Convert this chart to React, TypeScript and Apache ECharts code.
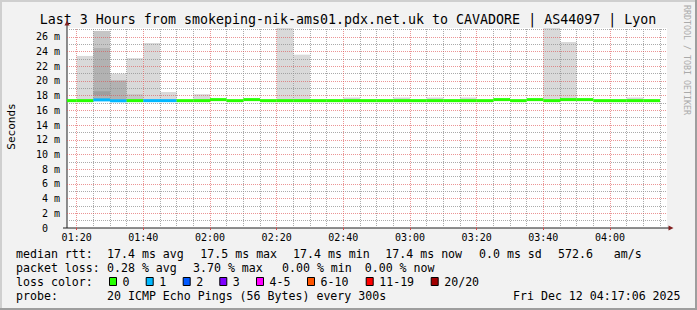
import React, { useEffect, useRef } from "react";
import * as echarts from "echarts";

const TITLE = "Last 3 Hours from smokeping-nik-ams01.pdx.net.uk to CAVADORE | AS44097 | Lyon";
const X_START = 77.1; // 01:17:06 (minutes since midnight)
const X_END = 257.1; // 04:17:06
const SLOT_FIRST = 75; // 01:15, first 5-minute step
const SLOT_MIN = 5;
const Y_MAX = 27.2;
const xTickLabels = ["01:20", "01:40", "02:00", "02:20", "02:40", "03:00", "03:20", "03:40", "04:00"];
const yTickValues = [0, 2, 4, 6, 8, 10, 12, 14, 16, 18, 20, 22, 24, 26];

// median rtt per 5-minute step (ms), steps 01:15 .. 04:10
const medianMs = [
  17.32, 17.32, 17.42, 17.3, 17.32, 17.32, 17.32, 17.32, 17.32, 17.46,
  17.32, 17.46, 17.32, 17.32, 17.32, 17.32, 17.32, 17.32, 17.32, 17.32,
  17.32, 17.32, 17.32, 17.32, 17.32, 17.32, 17.46, 17.32, 17.46, 17.32,
  17.46, 17.46, 17.32, 17.32, 17.32, 17.32,
];
// lost pings (of 20) per step
const lossCount = [
  0, 0, 1, 1, 0, 1, 1, 0, 0, 0,
  0, 0, 0, 0, 0, 0, 0, 0, 0, 0,
  0, 0, 0, 0, 0, 0, 0, 0, 0, 0,
  0, 0, 0, 0, 0, 0,
];
// smoke bands: [step index, low ms, high ms]
const smokeLight: [number, number, number][] = [
  [1, 17.3, 23.4], [3, 20.1, 21.0], [4, 17.3, 23.1], [5, 17.3, 25.15], [6, 17.3, 18.5],
  [8, 17.3, 18.2], [13, 17.3, 30], [14, 17.3, 23.57], [17, 17.3, 17.75], [20, 17.3, 17.75],
  [22, 17.3, 17.75], [24, 17.3, 17.75], [29, 17.3, 30], [30, 17.3, 25.3], [34, 17.3, 17.75],
];
const smokeMid: [number, number, number][] = [[2, 24.5, 26.8], [4, 17.3, 18.2]];
const smokeDark: [number, number, number][] = [[2, 17.3, 24.5], [3, 17.3, 20.1]];
const smokeDarkest: [number, number, number][] = [[2, 18.05, 18.6]];

const lossLegend = [
  { label: "0", min: 0, color: "#26ff00" },
  { label: "1", min: 1, color: "#00b8ff" },
  { label: "2", min: 2, color: "#0059ff" },
  { label: "3", min: 3, color: "#7e00ff" },
  { label: "4-5", min: 4, color: "#ff00ff" },
  { label: "6-10", min: 6, color: "#ff5500" },
  { label: "11-19", min: 11, color: "#ff0000" },
  { label: "20/20", min: 20, color: "#a10000" },
];
const legendBoxX = [109, 145.7, 182.7, 219.3, 256, 307, 365.7, 430.7];

const rttRow = [
  ["median rtt:", 16], ["17.4 ms avg", 107], ["17.5 ms max", 200.3], ["17.4 ms min", 293],
  ["17.4 ms now", 385.3], ["0.0 ms sd", 479], ["572.6", 558], ["am/s", 613.7],
] as [string, number][];
const lossRow = [
  ["packet loss:", 16], ["0.28 % avg", 107], ["3.70 % max", 193], ["0.00 % min", 282], ["0.00 % now", 364.7],
] as [string, number][];
const probeRow = [
  ["probe:", 16], ["20 ICMP Echo Pings (56 Bytes) every 300s", 107], ["Fri Dec 12 04:17:06 2025", 513],
] as [string, number][];

const MONO = '"DejaVu Sans Mono", monospace';

const toMin = (s: string) => {
  const [h, m] = s.split(":").map(Number);
  return h * 60 + m;
};
const fmtMin = (v: number) => {
  const h = Math.floor(v / 60);
  const m = Math.round(v - h * 60);
  return `${String(h).padStart(2, "0")}:${String(m).padStart(2, "0")}`;
};
const slotStart = (k: number) => SLOT_FIRST + k * SLOT_MIN;
const lossColor = (n: number) => {
  let c = lossLegend[0].color;
  for (const l of lossLegend) if (n >= l.min) c = l.color;
  return c;
};

function rectItem(params: any, api: any, fill: string) {
  const p1 = api.coord([api.value(0), api.value(3)]);
  const p2 = api.coord([api.value(1), api.value(2)]);
  const shape = { x: p1[0], y: p1[1], width: p2[0] - p1[0], height: p2[1] - p1[1] };
  const cs = params.coordSys;
  const clipped = echarts.graphic.clipRectByRect(shape, { x: cs.x, y: cs.y, width: cs.width, height: cs.height });
  if (!clipped) return null;
  return { type: "rect", shape: clipped, style: { fill } };
}

function smokeSeries(data: [number, number, number][], color: string) {
  return {
    type: "custom",
    z: 2,
    silent: true,
    encode: { x: [0, 1], y: [2, 3] },
    data: data.map(([k, lo, hi]) => [slotStart(k), slotStart(k) + SLOT_MIN, lo, hi]),
    renderItem: (params: any, api: any) => rectItem(params, api, color),
  };
}

export default function App() {
  const ref = useRef<HTMLDivElement>(null);
  useEffect(() => {
    if (!ref.current) return;
    const chart = echarts.init(ref.current, null, { renderer: "svg", width: 697, height: 310 });
    const majorX = xTickLabels.map(toMin);
    const minorX: number[] = [];
    for (let v = 80; v < X_END; v += 5) if (!majorX.includes(v)) minorX.push(v);
    const minorY: number[] = [];
    for (let v = 1; v < Y_MAX; v += 2) minorY.push(v);
    const majorY = yTickValues.filter((v) => v > 0);
    const gridStyle = { color: "rgba(143,143,143,0.75)", type: [1, 1], width: 1 };
    const mgridStyle = { color: "rgba(222,79,79,0.6)", type: [1, 1], width: 1 };
    const markData: any[] = [
      ...minorX.map((v) => ({ xAxis: v, lineStyle: gridStyle })),
      ...minorY.map((v) => ({ yAxis: v, lineStyle: gridStyle })),
      ...majorX.map((v) => ({ xAxis: v, lineStyle: mgridStyle })),
      ...majorY.map((v) => ({ yAxis: v, lineStyle: mgridStyle })),
    ];

    const text = (t: string, x: number, y: number, extra: any = {}) => ({
      type: "text",
      x,
      y,
      silent: true,
      style: { text: t, fill: "#000", fontFamily: MONO, fontSize: 11.6, align: "left", verticalAlign: "middle", ...extra },
    });

    const graphics: any[] = [
      { type: "rect", shape: { x: 0, y: 0, width: 697, height: 2 }, style: { fill: "#cfcfcf" }, silent: true },
      { type: "rect", shape: { x: 0, y: 0, width: 2, height: 310 }, style: { fill: "#cfcfcf" }, silent: true },
      { type: "rect", shape: { x: 0, y: 308, width: 697, height: 2 }, style: { fill: "#9e9e9e" }, silent: true },
      { type: "rect", shape: { x: 695, y: 0, width: 2, height: 310 }, style: { fill: "#9e9e9e" }, silent: true },
      text(TITLE, 348, 19, { fontSize: 13.3, align: "center" }),
      {
        type: "text", x: 11, y: 126.5, rotation: Math.PI / 2, silent: true,
        style: { text: "Seconds", fill: "#000", fontFamily: MONO, fontSize: 11, align: "center", verticalAlign: "middle" },
      },
      {
        type: "text", x: 687, y: 60, rotation: -Math.PI / 2, silent: true,
        style: { text: "RRDTOOL / TOBI OETIKER", fill: "#aaaaaa", fontFamily: MONO, fontSize: 8.3, align: "center", verticalAlign: "middle" },
      },
      // axis lines and arrows
      { type: "line", shape: { x1: 67, y1: 228, x2: 67, y2: 23 }, style: { stroke: "#1f1f1f", lineWidth: 1 }, silent: true },
      { type: "line", shape: { x1: 63, y1: 228, x2: 670, y2: 228 }, style: { stroke: "#1f1f1f", lineWidth: 1 }, silent: true },
      { type: "polygon", shape: { points: [[64.5, 25.5], [69.5, 25.5], [67, 20.5]] }, style: { fill: "#801f1f" }, silent: true },
      { type: "polygon", shape: { points: [[668.5, 225.5], [668.5, 230.5], [673.5, 228]] }, style: { fill: "#801f1f" }, silent: true },
    ];
    rttRow.forEach(([t, x]) => graphics.push(text(t, x, 254.3)));
    lossRow.forEach(([t, x]) => graphics.push(text(t, x, 267.8)));
    graphics.push(text("loss color:", 16, 281.7));
    lossLegend.forEach((l, i) => {
      graphics.push({
        type: "rect", silent: true,
        shape: { x: legendBoxX[i] + 0.5, y: 277.5, width: 7, height: 8 },
        style: { fill: l.color, stroke: "#000", lineWidth: 1 },
      });
      graphics.push(text(l.label, legendBoxX[i] + 13.5, 281.7));
    });
    probeRow.forEach(([t, x]) => graphics.push(text(t, x, 295.7)));

    chart.setOption({
      animation: false,
      backgroundColor: "#f2f2f2",
      grid: { left: 67, top: 28, width: 600, height: 200, show: true, backgroundColor: "#ffffff", borderWidth: 0 },
      xAxis: {
        type: "value",
        min: X_START,
        max: X_END,
        axisLine: { show: false },
        splitLine: { show: false },
        axisTick: { show: true, customValues: majorX, length: 2, lineStyle: { color: "#d04f4f" } },
        axisLabel: {
          customValues: majorX,
          formatter: (v: number) => fmtMin(v),
          fontFamily: MONO,
          fontSize: 10,
          color: "#000",
          margin: 4,
        },
      },
      yAxis: {
        type: "value",
        min: 0,
        max: Y_MAX,
        interval: 2,
        axisLine: { show: false },
        splitLine: { show: false },
        axisTick: { show: false },
        axisLabel: {
          showMaxLabel: false,
          fontFamily: MONO,
          fontSize: 10,
          color: "#000",
          margin: 7,
          formatter: (v: number) => (v === 0 ? "{z|0}" : `${v} m`),
          rich: { z: { fontFamily: MONO, fontSize: 10, color: "#000", padding: [0, 12, 0, 0] } },
        },
      },
      graphic: graphics,
      series: [
        smokeSeries(smokeLight, "#d9d9d9"),
        smokeSeries(smokeMid, "#c6c6c6"),
        smokeSeries(smokeDark, "#b2b2b2"),
        smokeSeries(smokeDarkest, "#9e9e9e"),
        {
          type: "line",
          data: [],
          silent: true,
          markLine: { silent: true, symbol: "none", label: { show: false }, data: markData, z: 5 },
        },
        {
          type: "custom",
          z: 6,
          silent: true,
          encode: { x: [0, 1], y: [2] },
          data: medianMs.map((m, i) => [slotStart(i), slotStart(i) + SLOT_MIN, m, lossCount[i]]),
          renderItem: (params: any, api: any) => {
            const p1 = api.coord([api.value(0), api.value(2)]);
            const p2 = api.coord([api.value(1), api.value(2)]);
            const shape = { x: p1[0], y: p1[1] - 1.5, width: p2[0] - p1[0], height: 3 };
            const cs = params.coordSys;
            const clipped = echarts.graphic.clipRectByRect(shape, { x: cs.x, y: cs.y, width: cs.width, height: cs.height });
            if (!clipped) return null;
            return { type: "rect", shape: clipped, style: { fill: lossColor(api.value(3)) } };
          },
        },
      ],
    });
    return () => chart.dispose();
  }, []);
  return <div ref={ref} style={{ position: "absolute", left: 0, top: 0, width: 697, height: 310 }} />;
}
